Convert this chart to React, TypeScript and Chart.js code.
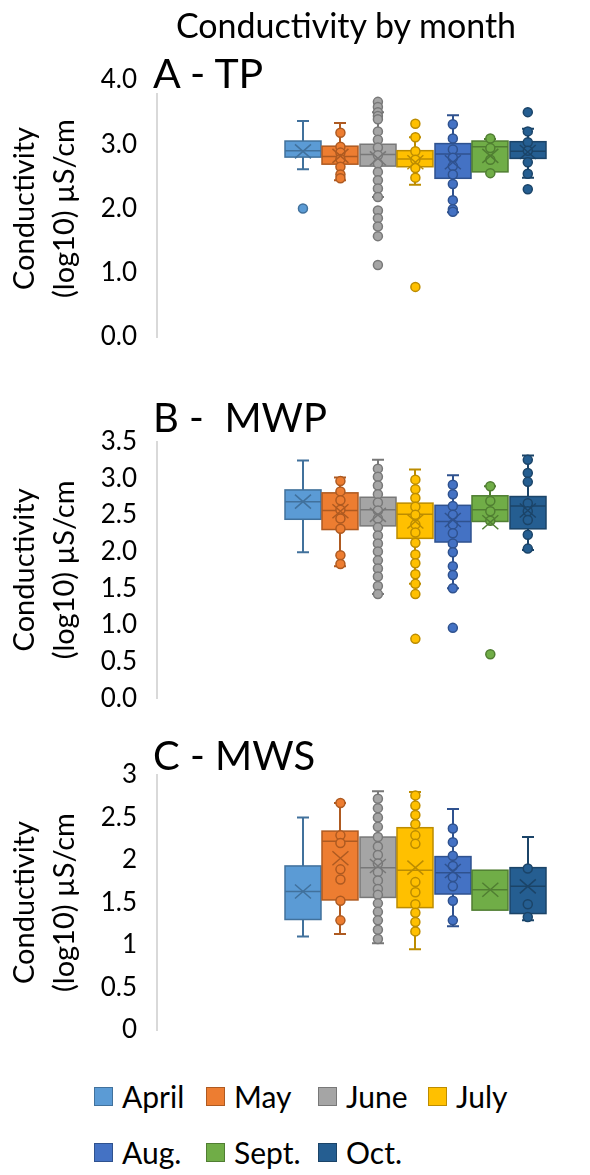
import React, { useEffect, useRef } from 'react';
import { Chart, registerables } from 'chart.js';
Chart.register(...registerables);

const MONTHS = ['April', 'May', 'June', 'July', 'Aug.', 'Sept.', 'Oct.'];
const FILL = ['#5B9BD5', '#ED7D31', '#A5A5A5', '#FFC000', '#4472C4', '#70AD47', '#255E91'];
const EDGE = ['#41719C', '#AE5A21', '#787878', '#BC8C00', '#2F528F', '#507E32', '#1B4468'];

// Panel A - TP
const A_LOW = [2.61, 2.44, 2.18, 2.37, 1.94, 2.57, 2.48];
const A_Q1 = [2.80, 2.69, 2.66, 2.65, 2.47, 2.57, 2.78];
const A_MED = [2.90, 2.81, 2.84, 2.77, 2.85, 2.96, 2.89];
const A_Q3 = [3.05, 2.97, 3.00, 2.90, 3.01, 3.05, 3.04];
const A_HIGH = [3.36, 3.33, 3.50, 3.11, 3.45, 3.08, 3.24];
const A_MEAN = [2.89, 2.82, 2.78, 2.72, 2.72, 2.82, 2.88];
const A_POINTS = [
  [2.0],
  [3.18, 2.96, 2.87, 2.77, 2.65, 2.53, 2.47],
  [3.66, 3.58, 3.50, 3.44, 3.39, 3.20, 3.07, 2.95, 2.83, 2.70, 2.57, 2.44, 2.31, 2.18, 1.97, 1.85, 1.72, 1.57, 1.12],
  [3.32, 3.11, 2.89, 2.76, 2.63, 2.48, 0.78],
  [3.31, 3.09, 2.92, 2.79, 2.66, 2.53, 2.38, 2.13, 1.99, 1.95],
  [3.09, 2.94, 2.76, 2.55],
  [3.50, 3.20, 3.03, 2.90, 2.72, 2.54, 2.30],
];

// Panel B - MWP
const B_LOW = [1.99, 1.80, 1.42, 1.56, 1.50, 2.41, 2.02];
const B_Q1 = [2.44, 2.30, 2.35, 2.18, 2.13, 2.41, 2.31];
const B_MED = [2.68, 2.56, 2.57, 2.51, 2.41, 2.57, 2.62];
const B_Q3 = [2.84, 2.80, 2.74, 2.66, 2.63, 2.76, 2.75];
const B_HIGH = [3.24, 3.01, 3.25, 3.12, 3.04, 2.89, 3.31];
const B_MEAN = [2.68, 2.55, 2.50, 2.41, 2.43, 2.40, 2.56];
const B_POINTS = [
  [],
  [2.96, 2.82, 2.70, 2.57, 2.45, 2.31, 1.95, 1.83],
  [3.13, 3.02, 2.90, 2.78, 2.67, 2.56, 2.45, 2.33, 2.22, 2.11, 2.00, 1.88, 1.77, 1.66, 1.53, 1.42],
  [2.98, 2.85, 2.73, 2.61, 2.50, 2.37, 2.26, 2.12, 1.96, 1.84, 1.69, 1.56, 1.42, 0.81],
  [2.91, 2.78, 2.62, 2.50, 2.37, 2.25, 2.11, 1.99, 1.80, 1.68, 1.50, 0.96],
  [2.89, 2.69, 2.55, 2.42, 0.60],
  [3.25, 3.07, 2.95, 2.66, 2.55, 2.43, 2.23, 2.04],
];

// Panel C - MWS
const C_LOW = [1.10, 1.13, 1.02, 0.95, 1.22, 1.41, 1.29];
const C_Q1 = [1.30, 1.53, 1.56, 1.44, 1.60, 1.41, 1.37];
const C_MED = [1.63, 2.22, 1.91, 1.88, 1.85, 1.65, 1.69];
const C_Q3 = [1.93, 2.34, 2.27, 2.38, 2.04, 1.88, 1.91];
const C_HIGH = [2.50, 2.67, 2.81, 2.80, 2.60, 1.88, 2.27];
const C_MEAN = [1.63, 2.02, 1.93, 1.91, 1.87, 1.65, 1.69];
const C_POINTS = [
  [],
  [2.67, 2.29, 2.20, 1.89, 1.77, 1.52, 1.29],
  [2.72, 2.61, 2.50, 2.39, 2.27, 2.16, 2.06, 1.96, 1.86, 1.76, 1.66, 1.59, 1.49, 1.39, 1.29, 1.18, 1.07],
  [2.76, 2.64, 2.53, 2.42, 2.29, 2.19, 1.74, 1.62, 1.48, 1.38, 1.27, 1.16],
  [2.37, 2.21, 2.05, 1.93, 1.80, 1.69, 1.52, 1.29],
  [],
  [1.90, 1.48, 1.33],
];

const A_TICKS = [0, 1, 2, 3, 4];
const B_TICKS = [0, 0.5, 1, 1.5, 2, 2.5, 3, 3.5];
const C_TICKS = [0, 0.5, 1, 1.5, 2, 2.5, 3];

const FONT = 'Lato';

type Stats = { low: number[]; q1: number[]; med: number[]; q3: number[]; high: number[]; mean: number[] };

function makeBoxPlugin(s: Stats) {
  return {
    id: 'boxes',
    beforeDatasetsDraw(chart: any) {
      const { ctx, scales } = chart;
      const x = scales.x, y = scales.y;
      ctx.save();
      for (let i = 0; i < MONTHS.length; i++) {
        const cx = Math.round(x.getPixelForValue(i));
        const half = 18;
        const yLo = y.getPixelForValue(s.low[i]);
        const yQ1 = y.getPixelForValue(s.q1[i]);
        const yMed = y.getPixelForValue(s.med[i]);
        const yQ3 = y.getPixelForValue(s.q3[i]);
        const yHi = y.getPixelForValue(s.high[i]);
        ctx.strokeStyle = EDGE[i];
        ctx.lineWidth = 2;
        ctx.beginPath();
        if (s.high[i] > s.q3[i]) {
          ctx.moveTo(cx, yQ3); ctx.lineTo(cx, yHi);
          ctx.moveTo(cx - 6, yHi); ctx.lineTo(cx + 6, yHi);
        }
        if (s.low[i] < s.q1[i]) {
          ctx.moveTo(cx, yQ1); ctx.lineTo(cx, yLo);
          ctx.moveTo(cx - 6, yLo); ctx.lineTo(cx + 6, yLo);
        }
        ctx.stroke();
        ctx.fillStyle = FILL[i];
        ctx.fillRect(cx - half, yQ3, half * 2, yQ1 - yQ3);
        ctx.lineWidth = 1.5;
        ctx.strokeRect(cx - half, yQ3, half * 2, yQ1 - yQ3);
        ctx.beginPath();
        ctx.moveTo(cx - half, yMed); ctx.lineTo(cx + half, yMed);
        ctx.stroke();
      }
      ctx.restore();
    },
    afterDatasetsDraw(chart: any) {
      const { ctx, scales } = chart;
      const x = scales.x, y = scales.y;
      ctx.save();
      for (let i = 0; i < MONTHS.length; i++) {
        const cx = x.getPixelForValue(i);
        const my = y.getPixelForValue(s.mean[i]);
        ctx.strokeStyle = EDGE[i];
        ctx.lineWidth = 1.5;
        ctx.beginPath();
        ctx.moveTo(cx - 8, my - 7); ctx.lineTo(cx + 8, my + 7);
        ctx.moveTo(cx - 8, my + 7); ctx.lineTo(cx + 8, my - 7);
        ctx.stroke();
      }
      ctx.restore();
    },
  };
}

type PanelProps = {
  top: number; height: number; padTop: number; padBottom: number;
  ticks: number[]; decimals: boolean; stats: Stats; points: number[][];
};

function Panel({ top, height, padTop, padBottom, ticks, decimals, stats, points }: PanelProps) {
  const ref = useRef<HTMLCanvasElement>(null);
  useEffect(() => {
    if (!ref.current) return;
    const datasets = points.map((pts, i) => ({
      label: MONTHS[i],
      data: pts.map((v) => ({ x: i, y: v })),
      backgroundColor: FILL[i],
      borderColor: EDGE[i],
      pointRadius: 4.5,
      pointBorderWidth: 1.5,
      showLine: false,
    }));
    const chart = new Chart(ref.current, {
      type: 'scatter',
      data: { datasets },
      options: {
        animation: false,
        responsive: false,
        maintainAspectRatio: false,
        devicePixelRatio: 1,
        layout: { padding: { top: padTop, bottom: padBottom, left: 0, right: 0 } },
        plugins: { legend: { display: false }, tooltip: { enabled: false }, title: { display: false } },
        scales: {
          x: { type: 'linear', display: false, min: -3.895, max: 7.5 },
          y: {
            type: 'linear',
            min: ticks[0],
            max: ticks[ticks.length - 1],
            afterBuildTicks: (s: any) => { s.ticks = ticks.map((v) => ({ value: v })); },
            afterFit: (s: any) => { s.width = 157; },
            ticks: {
              padding: 20,
              color: '#000',
              font: { family: FONT, size: 26 },
              callback: (v: any) => (decimals ? Number(v).toFixed(1) : String(v)),
            },
            grid: { display: false, drawTicks: false },
            border: { display: true, color: '#D9D9D9', width: 2 },
            title: {
              display: true,
              text: ['Conductivity', '(log10) µS/cm'],
              color: '#000',
              font: { family: FONT, size: 29, lineHeight: 40 / 29 },
              padding: { top: 5, bottom: 0 },
            },
          },
        },
      },
      plugins: [makeBoxPlugin(stats)],
    } as any);
    return () => chart.destroy();
  }, []);
  return (
    <canvas
      ref={ref}
      width={590}
      height={height}
      style={{ position: 'absolute', left: 0, top, width: 590, height }}
    />
  );
}

function Label({ text, left, baseline, size }: { text: string; left: number; baseline: number; size: number }) {
  return (
    <div
      style={{
        position: 'absolute', left, top: baseline - 0.887 * size, fontFamily: FONT, fontSize: size,
        lineHeight: 1, whiteSpace: 'pre', color: '#000',
      }}
    >
      {text}
    </div>
  );
}

const LEGEND_X = [94, 206, 318, 428];

export default function App() {
  return (
    <div style={{ position: 'absolute', left: 0, top: 0, width: 590, height: 1175, background: '#fff', overflow: 'hidden' }}>
      <Panel top={0} height={377} padTop={80} padBottom={40} ticks={A_TICKS} decimals={true}
        stats={{ low: A_LOW, q1: A_Q1, med: A_MED, q3: A_Q3, high: A_HIGH, mean: A_MEAN }} points={A_POINTS} />
      <Panel top={360} height={378} padTop={81.5} padBottom={39.7} ticks={B_TICKS} decimals={true}
        stats={{ low: B_LOW, q1: B_Q1, med: B_MED, q3: B_Q3, high: B_HIGH, mean: B_MEAN }} points={B_POINTS} />
      <Panel top={720} height={350} padTop={55} padBottom={40} ticks={C_TICKS} decimals={false}
        stats={{ low: C_LOW, q1: C_Q1, med: C_MED, q3: C_Q3, high: C_HIGH, mean: C_MEAN }} points={C_POINTS} />
      <div style={{ position: 'absolute', left: 96, top: 38 - 0.887 * 34, width: 500, textAlign: 'center', fontFamily: FONT, fontSize: 34, lineHeight: 1, color: '#000' }}>
        Conductivity by month
      </div>
      <div style={{ position: 'absolute', left: 153, top: 88 - 0.887 * 41, fontFamily: FONT, fontSize: 41, lineHeight: 1, background: '#fff', paddingRight: 4 }}>
        A - TP
      </div>
      <Label text={'B -  MWP'} left={153} baseline={432} size={40} />
      <Label text={'C - MWS'} left={153} baseline={770} size={40} />
      {MONTHS.map((m, i) => {
        const col = i < 4 ? i : i - 4;
        const row = i < 4 ? 0 : 1;
        const sx = LEGEND_X[col];
        const sy = row === 0 ? 1087 : 1143;
        return (
          <React.Fragment key={m}>
            <div style={{ position: 'absolute', left: sx, top: sy, width: 17, height: 17, background: FILL[i], border: `1px solid ${EDGE[i]}` }} />
            <Label text={m} left={sx + 28} baseline={row === 0 ? 1108 : 1164} size={30} />
          </React.Fragment>
        );
      })}
    </div>
  );
}
